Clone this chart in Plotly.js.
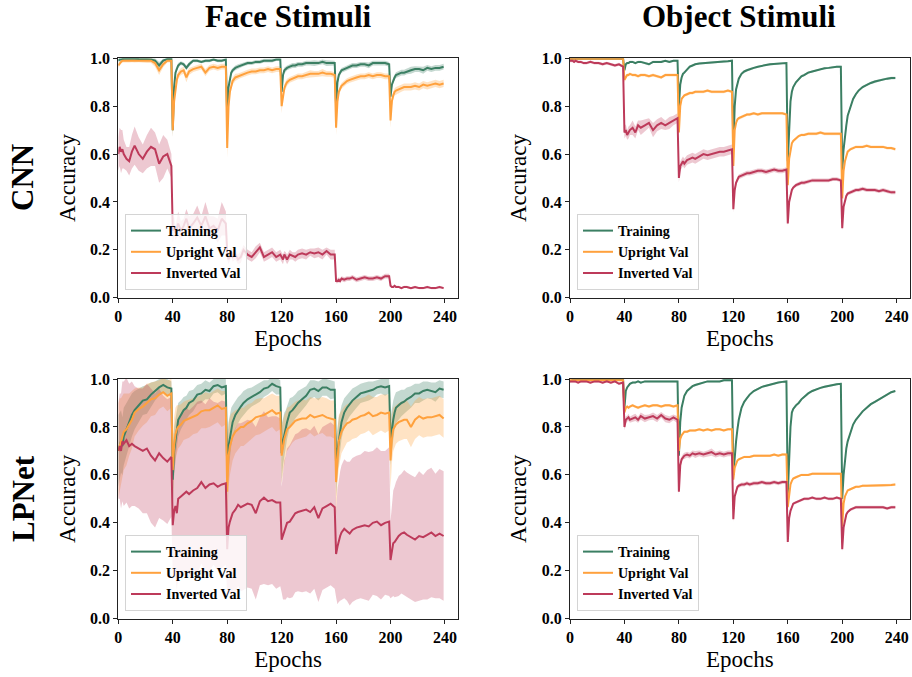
<!DOCTYPE html>
<html>
<head>
<meta charset="utf-8">
<script src="https://cdn.plot.ly/plotly-3.0.1.min.js"></script>
<style>html,body{margin:0;padding:0;background:#fff;}#chart{width:912px;height:677px;}</style>
</head>
<body>
<div id="chart"></div>
<script>
// ---------------- DATA ----------------
const EPOCHS = [
  0,1,2,3,4,6,8,10,12,15,18,21,24,27,30,33,36,39,
  40,41,42,43,44,46,48,50,52,55,58,61,64,67,70,73,76,79,
  80,81,82,83,84,86,88,90,92,95,98,101,104,107,110,113,116,119,
  120,121,122,123,124,126,128,130,132,135,138,141,144,147,150,153,156,159,
  160,161,162,163,164,166,168,170,172,175,178,181,184,187,190,193,196,199,
  200,201,202,203,204,206,208,210,212,215,218,221,224,227,230,233,236,239
];
const X_TICKS = [0, 40, 80, 120, 160, 200, 240];
const Y_TICKS = [0, 0.2, 0.4, 0.6, 0.8, 1.0];
const SERIES_NAMES = ['Training', 'Upright Val', 'Inverted Val'];
const COLUMN_TITLES = ['Face Stimuli', 'Object Stimuli'];
const ROW_TITLES = ['CNN', 'LPNet'];

// Face stimuli, CNN
const FACE_CNN_TRAIN = [
  0.99,0.995,0.995,0.997,0.998,0.998,0.997,0.998,0.998,0.997,0.998,0.996,0.995,0.99,0.97,0.99,0.997,0.998,
  0.70,0.88,0.94,0.96,0.97,0.98,0.975,0.96,0.975,0.99,0.99,0.985,0.99,0.99,0.995,0.99,0.99,0.995,
  0.76,0.88,0.92,0.94,0.95,0.96,0.965,0.97,0.975,0.98,0.98,0.985,0.985,0.99,0.99,0.99,0.995,0.995,
  0.86,0.93,0.95,0.955,0.96,0.965,0.97,0.97,0.975,0.975,0.98,0.98,0.98,0.98,0.985,0.98,0.98,0.98,
  0.80,0.90,0.93,0.94,0.95,0.955,0.96,0.965,0.97,0.97,0.975,0.975,0.97,0.98,0.98,0.98,0.98,0.975,
  0.84,0.89,0.91,0.92,0.93,0.935,0.94,0.94,0.945,0.95,0.955,0.955,0.95,0.96,0.955,0.96,0.96,0.965
];
const FACE_CNN_TRAIN_SD = [
  .004,.004,.004,.004,.004,.004,.004,.004,.004,.004,.004,.006,.006,.01,.015,.008,.004,.004,
  .03,.02,.015,.01,.01,.008,.008,.01,.01,.006,.006,.006,.006,.006,.005,.006,.006,.005,
  .03,.02,.015,.012,.01,.01,.01,.008,.008,.008,.008,.008,.008,.008,.008,.008,.006,.006,
  .03,.015,.012,.012,.01,.01,.01,.01,.01,.01,.01,.01,.012,.01,.01,.012,.01,.01,
  .03,.015,.012,.012,.01,.01,.01,.01,.01,.01,.01,.01,.012,.01,.01,.01,.01,.01,
  .03,.015,.012,.012,.012,.012,.012,.012,.012,.015,.012,.012,.015,.012,.012,.012,.012,.012
];
const FACE_CNN_UPRIGHT = [
  0.97,0.98,0.985,0.99,0.99,0.99,0.99,0.992,0.99,0.992,0.99,0.99,0.99,0.98,0.95,0.975,0.99,0.99,
  0.70,0.82,0.88,0.91,0.93,0.945,0.95,0.92,0.945,0.955,0.96,0.965,0.94,0.96,0.965,0.96,0.965,0.965,
  0.625,0.80,0.86,0.89,0.905,0.92,0.925,0.93,0.935,0.94,0.945,0.945,0.95,0.95,0.955,0.95,0.955,0.955,
  0.80,0.85,0.875,0.89,0.90,0.91,0.915,0.92,0.925,0.925,0.93,0.935,0.935,0.935,0.94,0.935,0.935,0.93,
  0.71,0.82,0.86,0.875,0.885,0.895,0.905,0.91,0.915,0.92,0.925,0.925,0.93,0.925,0.93,0.93,0.925,0.925,
  0.74,0.82,0.845,0.86,0.865,0.87,0.875,0.88,0.88,0.88,0.885,0.88,0.89,0.885,0.89,0.895,0.89,0.895
];
const FACE_CNN_UPRIGHT_SD = [
  .01,.01,.008,.008,.008,.008,.008,.008,.008,.008,.008,.01,.01,.015,.02,.012,.008,.008,
  .03,.03,.02,.02,.015,.015,.015,.02,.015,.012,.012,.012,.015,.012,.012,.012,.012,.012,
  .04,.03,.02,.015,.015,.015,.012,.012,.012,.012,.012,.012,.012,.012,.012,.012,.012,.012,
  .03,.02,.015,.015,.015,.012,.012,.012,.012,.012,.012,.015,.012,.012,.015,.012,.012,.012,
  .03,.02,.015,.015,.012,.012,.012,.012,.012,.012,.012,.012,.012,.012,.012,.012,.012,.012,
  .03,.02,.015,.015,.015,.015,.015,.015,.015,.015,.015,.015,.015,.015,.015,.015,.015,.015
];
const FACE_CNN_INVERTED = [
  0.60,0.63,0.61,0.62,0.60,0.58,0.57,0.61,0.635,0.60,0.58,0.61,0.63,0.62,0.56,0.59,0.60,0.55,
  0.28,0.30,0.27,0.29,0.31,0.28,0.30,0.33,0.29,0.31,0.335,0.30,0.34,0.29,0.30,0.28,0.33,0.31,
  0.19,0.16,0.18,0.19,0.17,0.18,0.16,0.17,0.20,0.18,0.17,0.19,0.21,0.17,0.18,0.19,0.17,0.18,
  0.17,0.16,0.18,0.17,0.16,0.18,0.175,0.17,0.18,0.185,0.18,0.19,0.185,0.19,0.18,0.195,0.18,0.18,
  0.07,0.07,0.075,0.07,0.08,0.075,0.08,0.08,0.085,0.075,0.08,0.085,0.08,0.08,0.085,0.08,0.09,0.09,
  0.05,0.045,0.045,0.05,0.045,0.045,0.04,0.045,0.045,0.04,0.045,0.04,0.04,0.045,0.04,0.04,0.045,0.04
];
const FACE_CNN_INVERTED_SD = [
  .07,.08,.09,.08,.06,.05,.06,.07,.08,.07,.06,.07,.08,.07,.08,.09,.06,.05,
  .05,.04,.03,.04,.05,.04,.03,.04,.05,.04,.05,.04,.06,.05,.04,.05,.07,.05,
  .03,.02,.025,.02,.02,.02,.02,.025,.02,.02,.02,.025,.02,.02,.02,.02,.02,.02,
  .02,.02,.015,.02,.02,.02,.015,.02,.02,.02,.02,.015,.02,.02,.02,.015,.02,.02,
  .01,.01,.01,.01,.01,.01,.01,.01,.01,.01,.01,.01,.01,.01,.01,.01,.01,.01,
  .005,.005,.005,.005,.005,.005,.005,.005,.005,.005,.005,.005,.005,.005,.005,.005,.005,.005
];

// Object stimuli, CNN
const OBJ_CNN_TRAIN = [
  0.997,0.998,0.998,0.998,0.998,0.998,0.998,0.998,0.998,0.998,0.998,0.998,0.998,0.998,0.998,0.998,0.998,0.998,
  0.95,0.975,0.98,0.98,0.985,0.985,0.98,0.985,0.985,0.98,0.975,0.985,0.985,0.985,0.99,0.985,0.99,0.99,
  0.80,0.89,0.92,0.935,0.94,0.955,0.965,0.97,0.975,0.978,0.98,0.982,0.983,0.985,0.985,0.987,0.988,0.99,
  0.62,0.80,0.87,0.90,0.915,0.935,0.945,0.95,0.955,0.96,0.965,0.97,0.972,0.975,0.977,0.978,0.98,0.98,
  0.57,0.74,0.82,0.86,0.88,0.90,0.915,0.925,0.93,0.94,0.945,0.95,0.955,0.958,0.96,0.963,0.965,0.965,
  0.53,0.62,0.68,0.72,0.76,0.80,0.83,0.85,0.865,0.88,0.89,0.897,0.903,0.908,0.912,0.915,0.918,0.918
];
const OBJ_CNN_TRAIN_SD = [
  .003,.003,.003,.003,.003,.003,.003,.003,.003,.003,.003,.003,.003,.003,.003,.003,.003,.003,
  .01,.006,.005,.005,.005,.005,.005,.005,.005,.005,.005,.005,.005,.005,.004,.005,.004,.004,
  .02,.015,.01,.008,.006,.005,.005,.004,.004,.004,.004,.004,.004,.004,.004,.004,.004,.004,
  .02,.015,.01,.008,.006,.005,.005,.005,.005,.004,.004,.004,.004,.004,.004,.004,.004,.004,
  .02,.015,.01,.008,.006,.005,.005,.005,.005,.005,.004,.004,.004,.004,.004,.004,.004,.004,
  .02,.015,.01,.01,.008,.006,.006,.005,.005,.005,.005,.005,.005,.005,.005,.005,.005,.005
];
const OBJ_CNN_UPRIGHT = [
  0.998,0.998,0.998,0.998,0.998,0.998,0.998,0.998,0.998,0.998,0.998,0.998,0.998,0.998,0.998,0.998,0.998,0.998,
  0.91,0.92,0.93,0.93,0.935,0.93,0.93,0.925,0.93,0.93,0.925,0.93,0.925,0.92,0.93,0.93,0.93,0.93,
  0.69,0.80,0.83,0.84,0.845,0.85,0.855,0.855,0.86,0.86,0.86,0.865,0.86,0.86,0.86,0.86,0.865,0.86,
  0.55,0.70,0.73,0.745,0.75,0.755,0.76,0.765,0.765,0.77,0.765,0.77,0.77,0.77,0.77,0.77,0.77,0.765,
  0.47,0.58,0.62,0.645,0.655,0.665,0.675,0.68,0.68,0.685,0.685,0.685,0.69,0.685,0.685,0.685,0.685,0.685,
  0.415,0.53,0.57,0.595,0.61,0.62,0.625,0.63,0.63,0.63,0.635,0.63,0.63,0.63,0.63,0.625,0.625,0.62
];
const OBJ_CNN_UPRIGHT_SD = [
  .003,.003,.003,.003,.003,.003,.003,.003,.003,.003,.003,.003,.003,.003,.003,.003,.003,.003,
  .01,.008,.006,.006,.006,.006,.006,.006,.006,.006,.006,.006,.006,.006,.006,.006,.006,.006,
  .015,.01,.008,.006,.006,.006,.006,.006,.006,.006,.006,.006,.006,.006,.006,.006,.006,.006,
  .015,.01,.008,.006,.006,.006,.006,.006,.006,.006,.006,.006,.006,.006,.006,.006,.006,.006,
  .015,.01,.008,.006,.006,.006,.006,.006,.006,.006,.006,.006,.006,.006,.006,.006,.006,.006,
  .015,.01,.008,.006,.006,.006,.006,.006,.006,.006,.006,.006,.006,.006,.006,.006,.006,.006
];
const OBJ_CNN_INVERTED = [
  0.99,0.99,0.99,0.985,0.99,0.985,0.985,0.98,0.98,0.985,0.98,0.98,0.975,0.98,0.975,0.97,0.975,0.965,
  0.69,0.70,0.68,0.69,0.70,0.71,0.69,0.72,0.71,0.72,0.73,0.70,0.72,0.73,0.72,0.73,0.74,0.75,
  0.50,0.55,0.56,0.57,0.56,0.575,0.58,0.585,0.58,0.59,0.60,0.595,0.60,0.605,0.61,0.61,0.615,0.62,
  0.37,0.45,0.48,0.495,0.505,0.51,0.515,0.52,0.52,0.525,0.53,0.53,0.525,0.53,0.535,0.53,0.53,0.535,
  0.31,0.40,0.43,0.45,0.46,0.47,0.475,0.48,0.48,0.485,0.49,0.49,0.49,0.49,0.49,0.495,0.495,0.49,
  0.29,0.38,0.41,0.425,0.435,0.44,0.445,0.45,0.45,0.455,0.45,0.45,0.45,0.445,0.45,0.445,0.44,0.44
];
const OBJ_CNN_INVERTED_SD = [
  .006,.006,.006,.006,.006,.006,.006,.006,.006,.006,.006,.006,.006,.006,.006,.006,.006,.006,
  .025,.025,.02,.025,.02,.03,.025,.02,.03,.025,.02,.03,.025,.025,.02,.025,.02,.02,
  .02,.02,.02,.02,.02,.02,.02,.02,.02,.02,.02,.02,.02,.02,.02,.02,.02,.02,
  .015,.012,.012,.01,.01,.01,.01,.01,.01,.01,.01,.01,.01,.01,.01,.01,.01,.01,
  .01,.008,.008,.008,.008,.008,.008,.008,.008,.008,.008,.008,.008,.008,.008,.008,.008,.008,
  .01,.008,.008,.008,.008,.008,.008,.008,.008,.008,.008,.008,.008,.008,.008,.008,.008,.008
];

// Face stimuli, LPNet
const FACE_LP_TRAIN = [
  0.70,0.72,0.74,0.72,0.76,0.79,0.82,0.85,0.87,0.89,0.91,0.915,0.935,0.95,0.965,0.975,0.965,0.96,
  0.58,0.70,0.75,0.80,0.83,0.85,0.87,0.88,0.90,0.91,0.935,0.94,0.955,0.95,0.97,0.975,0.965,0.97,
  0.62,0.72,0.76,0.80,0.82,0.85,0.87,0.885,0.90,0.915,0.925,0.935,0.945,0.96,0.965,0.98,0.97,0.965,
  0.69,0.74,0.77,0.79,0.82,0.86,0.87,0.885,0.90,0.915,0.93,0.955,0.96,0.95,0.965,0.965,0.955,0.955,
  0.63,0.70,0.75,0.78,0.82,0.86,0.88,0.895,0.91,0.925,0.94,0.945,0.95,0.955,0.965,0.97,0.965,0.97,
  0.74,0.79,0.83,0.86,0.88,0.89,0.90,0.905,0.915,0.925,0.94,0.94,0.95,0.955,0.95,0.945,0.96,0.955
];
const FACE_LP_TRAIN_SD = [
  .15,.14,.13,.12,.12,.11,.10,.09,.08,.07,.06,.06,.05,.04,.035,.03,.035,.03,
  .12,.10,.09,.08,.07,.06,.055,.05,.05,.045,.04,.04,.04,.035,.03,.03,.035,.03,
  .12,.10,.09,.08,.07,.06,.055,.05,.05,.045,.04,.04,.04,.035,.03,.03,.035,.03,
  .12,.10,.09,.08,.07,.06,.055,.05,.05,.045,.04,.04,.035,.04,.035,.035,.04,.035,
  .12,.10,.09,.08,.07,.06,.055,.05,.05,.045,.04,.04,.04,.035,.03,.03,.035,.03,
  .10,.09,.08,.07,.065,.06,.055,.05,.05,.045,.04,.04,.04,.035,.035,.04,.035,.035
];
const FACE_LP_UPRIGHT = [
  0.70,0.72,0.74,0.76,0.78,0.79,0.81,0.83,0.86,0.875,0.885,0.90,0.915,0.92,0.935,0.945,0.93,0.94,
  0.62,0.72,0.77,0.79,0.80,0.81,0.825,0.83,0.835,0.845,0.85,0.865,0.87,0.87,0.88,0.89,0.875,0.88,
  0.53,0.68,0.72,0.745,0.76,0.78,0.79,0.80,0.80,0.815,0.825,0.84,0.845,0.85,0.86,0.87,0.855,0.86,
  0.68,0.72,0.75,0.77,0.79,0.80,0.815,0.825,0.83,0.835,0.835,0.85,0.84,0.845,0.85,0.84,0.835,0.83,
  0.57,0.68,0.74,0.76,0.78,0.80,0.815,0.82,0.83,0.835,0.845,0.85,0.86,0.845,0.85,0.86,0.855,0.86,
  0.66,0.75,0.79,0.80,0.81,0.82,0.825,0.83,0.83,0.80,0.83,0.845,0.835,0.84,0.84,0.845,0.85,0.835
];
const FACE_LP_UPRIGHT_SD = [
  .20,.20,.18,.17,.16,.15,.13,.12,.10,.09,.08,.08,.07,.07,.06,.06,.065,.06,
  .14,.12,.11,.10,.09,.085,.08,.08,.08,.075,.075,.07,.075,.07,.07,.07,.075,.07,
  .14,.13,.12,.11,.10,.09,.085,.08,.08,.08,.075,.075,.075,.07,.07,.07,.075,.07,
  .12,.11,.10,.09,.09,.085,.08,.08,.08,.08,.075,.075,.08,.075,.075,.08,.075,.08,
  .14,.12,.11,.10,.09,.085,.08,.08,.08,.08,.075,.075,.075,.08,.075,.075,.08,.075,
  .12,.10,.09,.085,.08,.08,.08,.08,.08,.085,.08,.08,.08,.08,.08,.08,.08,.08
];
const FACE_LP_INVERTED = [
  0.70,0.72,0.70,0.74,0.73,0.745,0.72,0.73,0.72,0.71,0.70,0.71,0.68,0.66,0.69,0.67,0.655,0.675,
  0.39,0.45,0.47,0.44,0.50,0.51,0.52,0.53,0.52,0.535,0.545,0.57,0.545,0.56,0.565,0.55,0.56,0.565,
  0.29,0.38,0.405,0.42,0.44,0.455,0.475,0.465,0.47,0.48,0.475,0.44,0.49,0.505,0.49,0.495,0.485,0.485,
  0.33,0.35,0.37,0.38,0.40,0.405,0.42,0.44,0.445,0.45,0.455,0.445,0.465,0.42,0.46,0.47,0.48,0.465,
  0.27,0.30,0.33,0.345,0.36,0.375,0.365,0.355,0.37,0.38,0.385,0.39,0.385,0.40,0.405,0.39,0.40,0.405,
  0.245,0.29,0.315,0.32,0.33,0.345,0.355,0.36,0.35,0.34,0.33,0.345,0.34,0.35,0.36,0.345,0.355,0.345
];
const FACE_LP_INVERTED_SD = [
  .20,.22,.24,.25,.26,.26,.26,.26,.25,.25,.26,.27,.28,.28,.27,.26,.26,.25,
  .22,.28,.30,.32,.33,.34,.34,.35,.35,.35,.36,.34,.35,.36,.34,.35,.35,.34,
  .20,.28,.30,.32,.33,.34,.34,.35,.35,.35,.35,.36,.35,.36,.35,.35,.36,.35,
  .22,.27,.29,.30,.31,.32,.33,.33,.33,.34,.34,.34,.34,.35,.34,.34,.34,.34,
  .18,.24,.26,.27,.28,.29,.29,.30,.30,.30,.30,.31,.31,.30,.31,.31,.30,.31,
  .16,.20,.22,.23,.24,.25,.25,.26,.26,.26,.26,.27,.26,.27,.27,.26,.27,.27
];

// Object stimuli, LPNet
const OBJ_LP_TRAIN = [
  0.99,0.995,0.996,0.996,0.996,0.996,0.996,0.996,0.996,0.996,0.996,0.996,0.996,0.996,0.996,0.996,0.996,0.996,
  0.88,0.95,0.965,0.975,0.98,0.985,0.985,0.99,0.985,0.99,0.99,0.99,0.99,0.99,0.99,0.99,0.99,0.99,
  0.68,0.82,0.88,0.91,0.93,0.95,0.96,0.97,0.975,0.98,0.985,0.99,0.99,0.99,0.99,0.995,0.995,0.995,
  0.60,0.68,0.74,0.79,0.83,0.88,0.905,0.92,0.935,0.95,0.96,0.967,0.972,0.977,0.98,0.985,0.988,0.99,
  0.52,0.68,0.80,0.86,0.875,0.89,0.90,0.915,0.925,0.94,0.95,0.958,0.963,0.968,0.972,0.975,0.978,0.98,
  0.50,0.60,0.66,0.71,0.74,0.78,0.81,0.83,0.845,0.865,0.88,0.895,0.905,0.915,0.925,0.935,0.945,0.95
];
const OBJ_LP_TRAIN_SD = [
  .003,.003,.003,.003,.003,.003,.003,.003,.003,.003,.003,.003,.003,.003,.003,.003,.003,.003,
  .01,.006,.004,.004,.004,.004,.004,.004,.004,.004,.004,.004,.004,.004,.004,.004,.004,.004,
  .015,.01,.008,.006,.005,.004,.004,.004,.004,.004,.004,.004,.004,.004,.004,.004,.004,.004,
  .015,.01,.008,.006,.005,.005,.004,.004,.004,.004,.004,.004,.004,.004,.004,.004,.004,.004,
  .015,.01,.008,.006,.005,.005,.004,.004,.004,.004,.004,.004,.004,.004,.004,.004,.004,.004,
  .015,.01,.008,.006,.005,.005,.004,.004,.004,.004,.004,.004,.004,.004,.004,.004,.004,.004
];
const OBJ_LP_UPRIGHT = [
  0.995,0.995,0.995,0.995,0.995,0.995,0.995,0.995,0.995,0.995,0.995,0.995,0.995,0.995,0.995,0.995,0.995,0.995,
  0.86,0.88,0.885,0.88,0.885,0.89,0.885,0.88,0.885,0.89,0.885,0.89,0.89,0.885,0.89,0.89,0.885,0.89,
  0.70,0.75,0.765,0.775,0.78,0.78,0.785,0.785,0.785,0.79,0.785,0.79,0.785,0.79,0.79,0.785,0.79,0.79,
  0.58,0.63,0.65,0.66,0.665,0.67,0.675,0.675,0.675,0.68,0.68,0.68,0.68,0.68,0.685,0.68,0.685,0.685,
  0.465,0.53,0.56,0.575,0.585,0.59,0.595,0.60,0.60,0.60,0.605,0.605,0.605,0.605,0.605,0.605,0.605,0.605,
  0.385,0.48,0.51,0.525,0.535,0.54,0.545,0.55,0.55,0.555,0.555,0.555,0.555,0.555,0.555,0.555,0.558,0.56
];
const OBJ_LP_UPRIGHT_SD = [
  .003,.003,.003,.003,.003,.003,.003,.003,.003,.003,.003,.003,.003,.003,.003,.003,.003,.003,
  .008,.006,.006,.006,.006,.006,.006,.006,.006,.006,.006,.006,.006,.006,.006,.006,.006,.006,
  .01,.006,.005,.005,.005,.005,.005,.005,.005,.005,.005,.005,.005,.005,.005,.005,.005,.005,
  .01,.006,.005,.005,.005,.005,.005,.005,.005,.005,.005,.005,.005,.005,.005,.005,.005,.005,
  .01,.006,.005,.005,.005,.005,.005,.005,.005,.005,.005,.005,.005,.005,.005,.005,.005,.005,
  .01,.006,.005,.005,.005,.005,.005,.005,.005,.005,.005,.005,.005,.005,.005,.005,.005,.005
];
const OBJ_LP_INVERTED = [
  0.99,0.99,0.99,0.99,0.99,0.985,0.99,0.99,0.99,0.985,0.99,0.99,0.985,0.99,0.985,0.99,0.98,0.985,
  0.80,0.83,0.835,0.84,0.83,0.835,0.84,0.83,0.845,0.835,0.84,0.845,0.835,0.85,0.835,0.83,0.84,0.83,
  0.53,0.64,0.665,0.675,0.68,0.685,0.68,0.69,0.685,0.69,0.685,0.69,0.695,0.685,0.69,0.685,0.69,0.69,
  0.415,0.51,0.535,0.55,0.555,0.56,0.56,0.565,0.56,0.565,0.565,0.57,0.565,0.565,0.57,0.565,0.57,0.57,
  0.32,0.42,0.45,0.47,0.48,0.485,0.49,0.495,0.50,0.50,0.505,0.50,0.50,0.505,0.50,0.50,0.505,0.50,
  0.29,0.38,0.415,0.435,0.445,0.455,0.46,0.465,0.465,0.465,0.465,0.465,0.465,0.465,0.465,0.46,0.465,0.465
];
const OBJ_LP_INVERTED_SD = [
  .005,.005,.005,.005,.005,.005,.005,.005,.005,.005,.005,.005,.005,.005,.005,.005,.005,.005,
  .015,.015,.012,.015,.012,.015,.015,.012,.015,.015,.012,.015,.015,.012,.015,.015,.012,.015,
  .015,.012,.012,.012,.012,.012,.012,.012,.015,.012,.012,.012,.015,.012,.012,.012,.012,.012,
  .012,.01,.008,.008,.008,.008,.008,.008,.008,.008,.008,.008,.008,.008,.008,.008,.008,.008,
  .01,.008,.006,.006,.006,.006,.006,.006,.006,.006,.006,.006,.006,.006,.006,.006,.006,.006,
  .01,.008,.006,.006,.006,.006,.006,.006,.006,.006,.006,.006,.006,.006,.006,.006,.006,.006
];

// ---------------- STYLE ----------------
const FONT = '"Liberation Serif", "Times New Roman", Times, serif';
const LINE_COLORS = ['#3b7f63', '#ffa13d', '#bd3a5a'];
const BAND_COLORS = ['rgba(59,127,99,0.3)', 'rgba(255,161,61,0.3)', 'rgba(189,58,90,0.28)'];

const W = 912, H = 677;
const px2x = p => p / W;
const px2y = p => 1 - p / H;

const PANELS = [
  {xa: 'x',  ya: 'y',  legend: 'legend',  series: [[FACE_CNN_TRAIN, FACE_CNN_TRAIN_SD], [FACE_CNN_UPRIGHT, FACE_CNN_UPRIGHT_SD], [FACE_CNN_INVERTED, FACE_CNN_INVERTED_SD]]},
  {xa: 'x2', ya: 'y2', legend: 'legend2', series: [[OBJ_CNN_TRAIN, OBJ_CNN_TRAIN_SD], [OBJ_CNN_UPRIGHT, OBJ_CNN_UPRIGHT_SD], [OBJ_CNN_INVERTED, OBJ_CNN_INVERTED_SD]]},
  {xa: 'x3', ya: 'y3', legend: 'legend3', series: [[FACE_LP_TRAIN, FACE_LP_TRAIN_SD], [FACE_LP_UPRIGHT, FACE_LP_UPRIGHT_SD], [FACE_LP_INVERTED, FACE_LP_INVERTED_SD]]},
  {xa: 'x4', ya: 'y4', legend: 'legend4', series: [[OBJ_LP_TRAIN, OBJ_LP_TRAIN_SD], [OBJ_LP_UPRIGHT, OBJ_LP_UPRIGHT_SD], [OBJ_LP_INVERTED, OBJ_LP_INVERTED_SD]]}
];

const traces = [];
PANELS.forEach(p => {
  p.series.forEach(([m, s], k) => {
    const up = m.map((v, i) => v + s[i]);
    const lo = m.map((v, i) => v - s[i]);
    traces.push({
      x: EPOCHS.concat(EPOCHS.slice().reverse()),
      y: up.concat(lo.slice().reverse()),
      mode: 'lines', fill: 'toself', fillcolor: BAND_COLORS[k],
      line: {width: 0, color: 'rgba(0,0,0,0)'},
      hoverinfo: 'skip', showlegend: false, xaxis: p.xa, yaxis: p.ya
    });
  });
});
PANELS.forEach(p => {
  p.series.forEach(([m, s], k) => {
    traces.push({
      x: EPOCHS, y: m, mode: 'lines', name: SERIES_NAMES[k],
      line: {color: LINE_COLORS[k], width: 2},
      legend: p.legend, showlegend: true, xaxis: p.xa, yaxis: p.ya
    });
  });
});

const LEFT_X = [118.3, 457.9], RIGHT_X = [570, 909.6];
const TOP_Y = [58.3, 297.7], BOT_Y = [379, 618.7];

function xAxis(dom) {
  return {
    domain: [px2x(dom[0]), px2x(dom[1])], range: [0, 249.5],
    tickvals: X_TICKS, ticktext: X_TICKS.map(String),
    showline: true, linecolor: '#222', linewidth: 1, mirror: true,
    ticks: 'outside', ticklen: 4, tickcolor: '#222', showgrid: false, zeroline: false,
    tickfont: {family: FONT, size: 16, weight: 'bold', color: '#000'},
    title: {text: 'Epochs', font: {family: FONT, size: 23, color: '#000'}, standoff: 5},
    automargin: false
  };
}
function yAxis(dom, anchor) {
  return {
    domain: [px2y(dom[1]), px2y(dom[0])], range: [0, 1],
    tickvals: Y_TICKS, ticktext: Y_TICKS.map(v => v.toFixed(1)),
    showline: true, linecolor: '#222', linewidth: 1, mirror: true,
    ticks: 'outside', ticklen: 4, tickcolor: '#222', showgrid: false, zeroline: false,
    tickfont: {family: FONT, size: 16, weight: 'bold', color: '#000'},
    title: {text: 'Accuracy', font: {family: FONT, size: 23, color: '#000'}, standoff: 8},
    anchor: anchor, automargin: false
  };
}
function legendAt(xpx, ybot) {
  return {
    x: px2x(xpx), y: px2y(ybot), xanchor: 'left', yanchor: 'bottom',
    bgcolor: 'rgba(255,255,255,0.8)', bordercolor: '#d4d4d4', borderwidth: 1,
    font: {family: FONT, size: 14, weight: 'bold', color: '#000'},
    tracegroupgap: 0, itemwidth: 30
  };
}

const layout = {
  width: W, height: H, margin: {l: 0, r: 0, t: 0, b: 0},
  paper_bgcolor: '#fff', plot_bgcolor: '#fff',
  font: {family: FONT, color: '#000'},
  xaxis: Object.assign(xAxis(LEFT_X), {anchor: 'y'}),
  yaxis: yAxis(TOP_Y, 'x'),
  xaxis2: Object.assign(xAxis(RIGHT_X), {anchor: 'y2'}),
  yaxis2: yAxis(TOP_Y, 'x2'),
  xaxis3: Object.assign(xAxis(LEFT_X), {anchor: 'y3'}),
  yaxis3: yAxis(BOT_Y, 'x3'),
  xaxis4: Object.assign(xAxis(RIGHT_X), {anchor: 'y4'}),
  yaxis4: yAxis(BOT_Y, 'x4'),
  legend: legendAt(125, 290),
  legend2: legendAt(577, 290),
  legend3: legendAt(125, 611),
  legend4: legendAt(577, 611),
  annotations: [
    {text: COLUMN_TITLES[0], x: px2x(288), y: px2y(17), xref: 'paper', yref: 'paper', showarrow: false, xanchor: 'center', yanchor: 'middle', font: {family: FONT, size: 31, weight: 'bold', color: '#000'}},
    {text: COLUMN_TITLES[1], x: px2x(739), y: px2y(17), xref: 'paper', yref: 'paper', showarrow: false, xanchor: 'center', yanchor: 'middle', font: {family: FONT, size: 31, weight: 'bold', color: '#000'}},
    {text: ROW_TITLES[0], x: px2x(23), y: px2y(178), xref: 'paper', yref: 'paper', showarrow: false, textangle: -90, xanchor: 'center', yanchor: 'middle', font: {family: FONT, size: 31, weight: 'bold', color: '#000'}},
    {text: ROW_TITLES[1], x: px2x(23), y: px2y(499), xref: 'paper', yref: 'paper', showarrow: false, textangle: -90, xanchor: 'center', yanchor: 'middle', font: {family: FONT, size: 31, weight: 'bold', color: '#000'}}
  ]
};

Plotly.newPlot('chart', traces, layout, {displayModeBar: false, staticPlot: true});
</script>
</body>
</html>
